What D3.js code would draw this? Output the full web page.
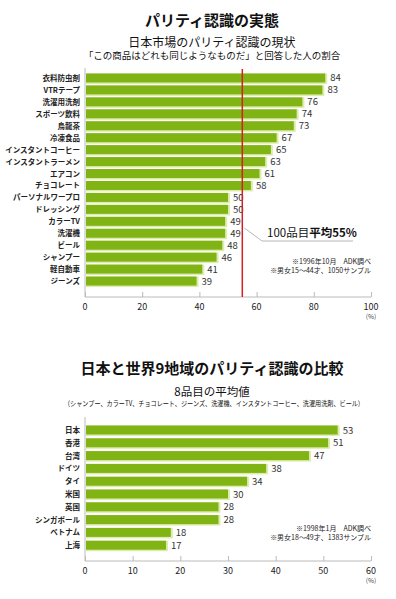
<!DOCTYPE html>
<html>
<head>
<meta charset="utf-8">
<script src="https://cdn.jsdelivr.net/npm/d3@7"></script>
<style>
  body { margin: 0; background: #fff; }
  svg { font-family: "Noto Sans CJK JP", "Noto Sans", sans-serif; }
</style>
</head>
<body>
<svg id="chart" width="396" height="599"></svg>
<script>
// DATA
const products = ["衣料防虫剤", "VTRテープ", "洗濯用洗剤", "スポーツ飲料", "烏龍茶", "冷凍食品",
  "インスタントコーヒー", "インスタントラーメン", "エアコン", "チョコレート", "パーソナルワープロ",
  "ドレッシング", "カラーTV", "洗濯機", "ビール", "シャンプー", "軽自動車", "ジーンズ"];
const productValues = [84, 83, 76, 74, 73, 67, 65, 63, 61, 58, 50, 50, 49, 49, 48, 46, 41, 39];
const productAverage = 55;
const productTicks = [0, 20, 40, 60, 80, 100];

const regions = ["日本", "香港", "台湾", "ドイツ", "タイ", "米国", "英国", "シンガポール", "ベトナム", "上海"];
const regionValues = [53, 51, 47, 38, 34, 30, 28, 28, 18, 17];
const regionTicks = [0, 10, 20, 30, 40, 50, 60];

const svg = d3.select("#chart");
const green = "#80b414";
const edge = "#dcecaa";
const x0 = 85, x1 = 371;

function title(txt, y, size, weight) {
  return svg.append("text").attr("x", 212).attr("y", y)
    .attr("text-anchor", "middle").attr("font-size", size)
    .attr("font-weight", weight).attr("fill", "#111").text(txt);
}

// --------------- HEADINGS ---------------
title("パリティ認識の実態", 26, 15, "bold");
title("日本市場のパリティ認識の現状", 47, 12, "normal");
title("「この商品はどれも同じようなものだ」と回答した人の割合", 59, 9.5, "normal");

title("日本と世界9地域のパリティ認識の比較", 374, 15, "bold");
title("8品目の平均値", 396, 11.5, "normal");
title("（シャンプー、カラーTV、チョコレート、ジーンズ、洗濯機、インスタントコーヒー、洗濯用洗剤、ビール）", 406, 7, "normal")
  .attr("x", 214).attr("textLength", 300).attr("lengthAdjust", "spacingAndGlyphs");

// --------------- BAR PANEL ---------------
function panel(cats, vals, maxV, ticks, yRange, yTop, yAxis) {
  const x = d3.scaleLinear().domain([0, maxV]).range([x0, x1]);
  const y = d3.scaleBand().domain(cats).range(yRange);
  const g = svg.append("g");
  const bh = 9;

  // axis
  const ax = g.append("g").attr("transform", `translate(0,${yAxis})`)
    .call(d3.axisTop(x).tickValues(ticks).tickSize(5).tickFormat(""));
  ax.select(".domain").remove();
  ax.selectAll("line").attr("stroke", "#bbb");
  g.append("line").attr("x1", x0).attr("x2", x1).attr("y1", yAxis).attr("y2", yAxis).attr("stroke", "#bbb");
  g.append("line").attr("x1", x0).attr("x2", x0).attr("y1", yTop).attr("y2", yAxis).attr("stroke", "#bbb");

  g.selectAll(".tl").data(ticks).join("text")
    .attr("x", d => x(d)).attr("y", yAxis + 13)
    .attr("text-anchor", "middle").attr("font-size", 9).attr("fill", "#222").text(d => d);
  g.append("text").attr("x", x1).attr("y", yAxis + 22).attr("text-anchor", "middle")
    .attr("font-size", 6.5).attr("fill", "#444").text("(%)");

  // bars
  const rows = g.selectAll(".row").data(cats.map((c, i) => ({ c, v: vals[i] }))).join("g");
  rows.append("rect")
    .attr("x", x0 + 1).attr("y", d => y(d.c) + y.bandwidth() / 2 - bh / 2)
    .attr("width", d => x(d.v) - x0 + 1).attr("height", bh + 1.5).attr("fill", edge);
  rows.append("rect")
    .attr("x", x0 + 1).attr("y", d => y(d.c) + y.bandwidth() / 2 - bh / 2)
    .attr("width", d => x(d.v) - x0 - 1).attr("height", bh).attr("fill", green);
  rows.append("text")
    .attr("x", d => x(d.v) + 5).attr("y", d => y(d.c) + y.bandwidth() / 2 + 3.5)
    .attr("font-size", 9.5).attr("fill", "#333").text(d => d.v);
  rows.append("text")
    .attr("x", 80).attr("y", d => y(d.c) + y.bandwidth() / 2 + 3)
    .attr("text-anchor", "end").attr("font-size", 7.5).attr("font-weight", 600)
    .attr("fill", "#222").text(d => d.c);
  return { g, x, y };
}

const p1 = panel(products, productValues, 100, productTicks, [72, 287], 68, 297);
const p2 = panel(regions, regionValues, 60, regionTicks, [423.6, 551.6], 417, 561);

// average line
const ax55 = p1.x(productAverage);
p1.g.append("line").attr("x1", ax55).attr("x2", ax55).attr("y1", 69).attr("y2", 297)
  .attr("stroke", "#d42020").attr("stroke-width", 1.5);
p1.g.append("path")
  .attr("d", `M${ax55 + 2},228 L262,241 L353,241`)
  .attr("fill", "none").attr("stroke", "#999").attr("stroke-width", 0.7);
const ann = p1.g.append("text").attr("x", 267).attr("y", 237).attr("font-size", 11.5).attr("fill", "#111");
ann.append("tspan").text("100品目");
ann.append("tspan").attr("font-weight", "bold").text("平均55%");

// notes
function note(lines, y) {
  svg.selectAll(null).data(lines).join("text")
    .attr("x", 371).attr("y", (d, i) => y + i * 9)
    .attr("text-anchor", "end").attr("font-size", 7).attr("fill", "#222").text(d => d);
}
note(["※1996年10月　ADK調べ", "※男女15～44才、1050サンプル"], 264);
note(["※1998年1月　ADK調べ", "※男女18～49才、1383サンプル"], 531);
</script>
</body>
</html>
